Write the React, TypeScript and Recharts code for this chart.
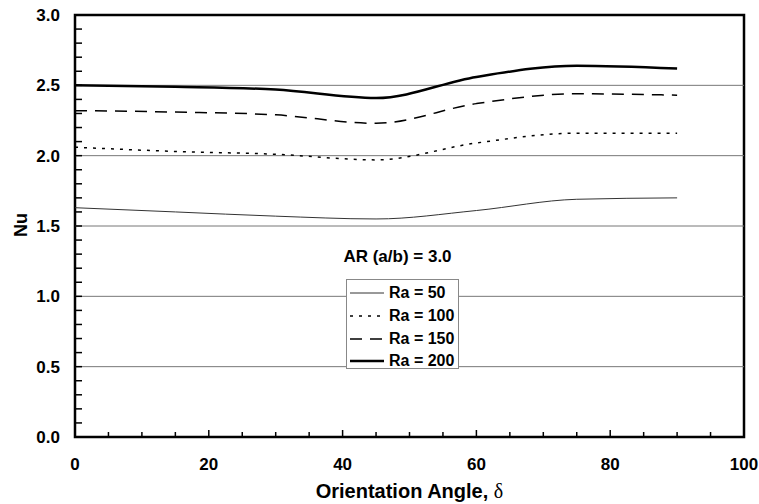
import { LineChart, Line, XAxis, YAxis, ReferenceArea, ReferenceLine, Legend } from 'recharts'

const angles = [0, 15, 30, 45, 60, 75, 90]
const ra50 = [1.63, 1.6, 1.57, 1.55, 1.61, 1.69, 1.7]
const ra100 = [2.06, 2.03, 2.01, 1.97, 2.09, 2.16, 2.16]
const ra150 = [2.32, 2.31, 2.29, 2.23, 2.37, 2.44, 2.43]
const ra200 = [2.5, 2.49, 2.47, 2.41, 2.56, 2.64, 2.62]

const xTicks = [0, 5, 10, 15, 20, 25, 30, 35, 40, 45, 50, 55, 60, 65, 70, 75, 80, 85, 90, 95, 100]
const yTicks = [0, 0.1, 0.2, 0.3, 0.4, 0.5, 0.6, 0.7, 0.8, 0.9, 1, 1.1, 1.2, 1.3, 1.4, 1.5, 1.6, 1.7, 1.8, 1.9, 2,
  2.1, 2.2, 2.3, 2.4, 2.5, 2.6, 2.7, 2.8, 2.9, 3]
const gridY = [0.5, 1, 1.5, 2, 2.5]

const data = angles.map((a, i) => ({ angle: a, r50: ra50[i], r100: ra100[i], r150: ra150[i], r200: ra200[i] }))

const series = [
  { key: 'r50', name: 'Ra = 50', stroke: '#333', width: 1, dash: undefined },
  { key: 'r100', name: 'Ra = 100', stroke: '#000', width: 1.5, dash: '3 6' },
  { key: 'r150', name: 'Ra = 150', stroke: '#000', width: 1.5, dash: '12 8' },
  { key: 'r200', name: 'Ra = 200', stroke: '#000', width: 2.5, dash: undefined },
]

const font = '"Liberation Sans", Arial, sans-serif'

const XTick = (props: any) => {
  const { x, y, payload } = props
  const v = payload.value
  const major = v % 20 === 0
  return (
    <g>
      <line x1={x} x2={x} y1={y} y2={y - (major ? 7 : 5)} stroke="#000" strokeWidth={1.5} />
      {major && (
        <text x={x} y={y + 33} textAnchor="middle" fontFamily={font} fontWeight="bold" fontSize={17} fill="#000">
          {v}
        </text>
      )}
    </g>
  )
}

const YTick = (props: any) => {
  const { x, y, payload } = props
  const v = payload.value
  const major = Math.round(v * 10) % 5 === 0
  return (
    <g>
      <line x1={x} x2={x + 7} y1={y} y2={y} stroke="#000" strokeWidth={1.5} />
      {major && (
        <text x={x - 15} y={y + 6} textAnchor="end" fontFamily={font} fontWeight="bold" fontSize={17} fill="#000">
          {v.toFixed(1)}
        </text>
      )}
    </g>
  )
}

const XLabel = (props: any) => {
  const { viewBox } = props
  const cx = viewBox.x + viewBox.width / 2
  return (
    <text x={cx} y={498} textAnchor="middle" fontFamily={font} fontWeight="bold" fontSize={20} fill="#000">
      Orientation Angle,{' '}
      <tspan fontFamily='"Liberation Serif", "Times New Roman", serif' fontWeight="normal">δ</tspan>
    </text>
  )
}

const YLabel = () => (
  <text x={27} y={225} transform="rotate(-90 27 225)" textAnchor="middle" fontFamily={font} fontWeight="bold" fontSize={18} fill="#000">
    Nu
  </text>
)

const LegendBox = () => (
  <div style={{ position: 'relative', fontFamily: font, fontWeight: 'bold', color: '#000' }}>
    <div style={{ position: 'absolute', top: 0, left: -35, width: 173, textAlign: 'center', fontSize: 17, lineHeight: '18px' }}>
      AR (a/b) = 3.0
    </div>
    <div
      style={{
        position: 'absolute', top: 31, left: 0, width: 113, height: 90, boxSizing: 'border-box',
        border: '1px solid #888', background: '#fff', paddingTop: 2,
      }}
    >
      {series.map((s) => (
        <div key={s.key} style={{ display: 'flex', alignItems: 'center', height: 22.7, fontSize: 16 }}>
          <svg width={34} height={10} style={{ marginLeft: 3, marginRight: 5 }}>
            <line x1={0} x2={34} y1={5} y2={5} stroke={s.stroke} strokeWidth={s.width} strokeDasharray={s.dash} />
          </svg>
          <span style={{ whiteSpace: 'nowrap' }}>{s.name}</span>
        </div>
      ))}
    </div>
  </div>
)

export default function App() {
  return (
    <div style={{ position: 'absolute', left: 0, top: 0, width: 759, height: 504, background: '#fff' }}>
      <LineChart width={759} height={504} data={data} margin={{ top: 15, right: 15, left: 0, bottom: 0 }}>
        <XAxis
          dataKey="angle"
          type="number"
          domain={[0, 100]}
          ticks={xTicks}
          interval={0}
          tickSize={0}
          tickMargin={0}
          tickLine={false}
          axisLine={false}
          tick={XTick}
          height={67}
          label={XLabel}
        />
        <YAxis
          type="number"
          domain={[0, 3]}
          ticks={yTicks}
          interval={0}
          tickSize={0}
          tickMargin={0}
          tickLine={false}
          axisLine={false}
          tick={YTick}
          width={75}
          label={YLabel}
        />
        {gridY.map((g) => (
          <ReferenceLine key={g} y={g} stroke="#777" strokeWidth={1} />
        ))}
        {series.map((s) => (
          <Line
            key={s.key}
            dataKey={s.key}
            name={s.name}
            type="monotone"
            stroke={s.stroke}
            strokeWidth={s.width}
            strokeDasharray={s.dash}
            dot={false}
            isAnimationActive={false}
          />
        ))}
        <ReferenceArea x1={0} x2={100} y1={0} y2={3} fill="none" stroke="#000" strokeWidth={2.5} />
        <Legend
          layout="vertical"
          align="center"
          verticalAlign="middle"
          content={LegendBox}
          wrapperStyle={{ left: 346, top: 248, width: 113 }}
        />
      </LineChart>
    </div>
  )
}
